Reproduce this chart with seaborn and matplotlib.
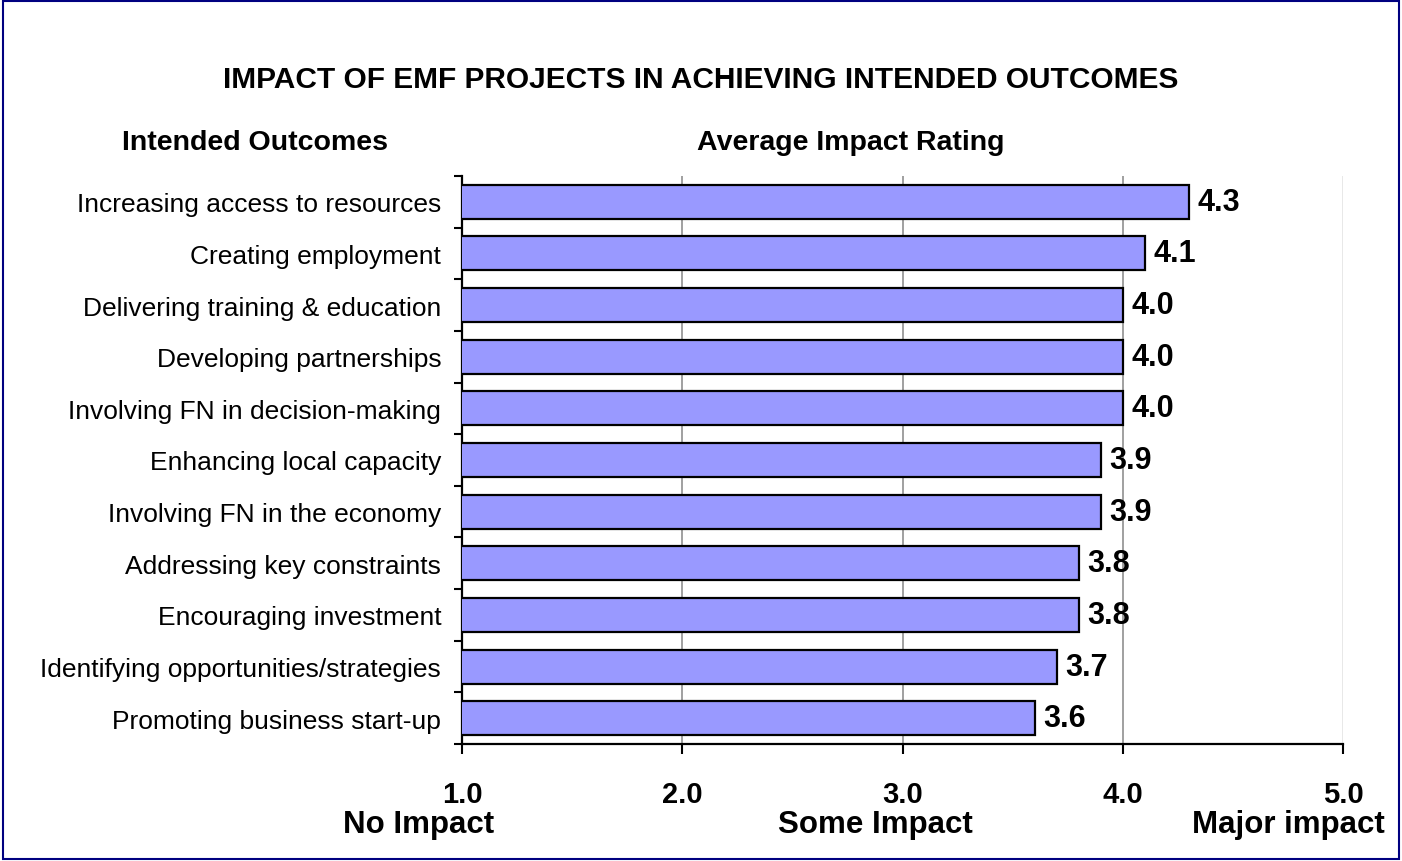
import matplotlib
matplotlib.use('Agg')
import matplotlib.pyplot as plt
import seaborn as sns
import pandas as pd
from matplotlib.patches import Rectangle

outcomes = [
    'Increasing access to resources',
    'Creating employment',
    'Delivering training & education',
    'Developing partnerships',
    'Involving FN in decision-making',
    'Enhancing local capacity',
    'Involving FN in the economy',
    'Addressing key constraints',
    'Encouraging investment',
    'Identifying opportunities/strategies',
    'Promoting business start-up',
]
ratings = [4.3, 4.1, 4.0, 4.0, 4.0, 3.9, 3.9, 3.8, 3.8, 3.7, 3.6]
x_ticks = [1.0, 2.0, 3.0, 4.0, 5.0]
scale_labels = ['No Impact', 'Some Impact', 'Major impact']

df = pd.DataFrame({'outcome': outcomes, 'rating': ratings})

sns.set_style('white')
plt.rcParams['font.family'] = ['Liberation Sans', 'DejaVu Sans']
plt.rcParams['text.color'] = 'black'
plt.rcParams['xtick.color'] = 'black'
plt.rcParams['ytick.color'] = 'black'

fig = plt.figure(figsize=(14.02, 8.62), dpi=100)
ax = fig.add_axes([462 / 1402, 1 - 745 / 862, (1343 - 462) / 1402, (745 - 177) / 862])

sns.barplot(data=df, x='rating', y='outcome', color='#9999FF', edgecolor='black',
            linewidth=1.6, width=0.66, saturation=1, orient='h', ax=ax, zorder=3)

ax.set_xlim(1, 5)
ax.set_ylim(len(outcomes) - 0.5, -0.5)
ax.set_xticks(x_ticks)
ax.set_xticklabels([f'{t:.1f}' for t in x_ticks], fontsize=21, fontweight='bold')
ax.tick_params(axis='x', bottom=True, direction='out', length=7, width=1.5, pad=19)
ax.xaxis.grid(True, color='#999999', linewidth=1.3, zorder=0)
ax.get_xgridlines()[-1].set_color('#e6e6e6')

# y ticks sit between categories, labels at the centers
ax.set_yticks(list(range(len(outcomes))))
ax.set_yticklabels(outcomes, fontsize=19)
ax.tick_params(axis='y', which='major', left=False, length=0, pad=15)
ax.set_yticks([i - 0.5 for i in range(len(outcomes) + 1)], minor=True)
ax.tick_params(axis='y', which='minor', left=True, direction='out', length=6, width=1.5)
ax.set_xlabel('')
ax.set_ylabel('')

for s in ['top', 'right']:
    ax.spines[s].set_visible(False)
for s in ['left', 'bottom']:
    ax.spines[s].set_color('black')
    ax.spines[s].set_linewidth(1.6)

for i, v in enumerate(ratings):
    ax.text(v + 0.04, i, f'{v:.1f}', va='center', ha='left', fontsize=22, fontweight='bold')

fig.text(0.5, 1 - 80 / 862, 'IMPACT OF EMF PROJECTS IN ACHIEVING INTENDED OUTCOMES',
         ha='center', va='center', fontsize=21.5, fontweight='bold')
fig.text(255 / 1402, 1 - 143 / 862, 'Intended Outcomes', ha='center', va='center',
         fontsize=20.5, fontweight='bold')
fig.text(851 / 1402, 1 - 143 / 862, 'Average Impact Rating', ha='center', va='center',
         fontsize=20.5, fontweight='bold')

for lbl, xc in zip(scale_labels, [419, 875, 1288]):
    fig.text(xc / 1402, 1 - 825 / 862, lbl, ha='center', va='center',
             fontsize=22.5, fontweight='bold')

fig.patches.append(Rectangle((0.002, 0.002), 0.996, 0.996, transform=fig.transFigure,
                             fill=False, edgecolor='#000080', linewidth=1.5))

fig.savefig('out.png', dpi=100)
